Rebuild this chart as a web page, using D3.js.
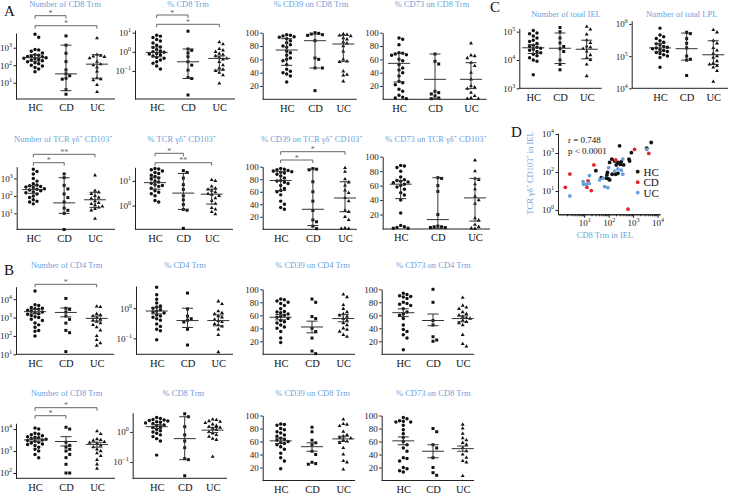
<!DOCTYPE html>
<html>
<head>
<meta charset="utf-8">
<script src="https://cdn.jsdelivr.net/npm/d3@7"></script>
<style>
  body { margin: 0; background: #fff; }
  svg text { font-family: "Liberation Serif", "DejaVu Serif", serif; }
  .title { fill: #6e9fd9; font-size: 8.5px; }
  .tick text { font-size: 9px; fill: #222; }
  .cats text { font-size: 10.5px; fill: #111; }
  .domain, .tick line { stroke: #222; }
  .letter { font-size: 15px; fill: #111; }
</style>
</head>
<body>
<svg id="chart" width="731" height="495"></svg>
<script>
const groups = ['HC', 'CD', 'UC']

// ---- A, top row: CD8 Trm in IEL (median + IQR)
const cd8NumHC = [5900, 3900, 800, 740, 630, 500, 400, 370, 330, 320, 300, 270, 250, 240, 210, 200, 180, 160, 140, 120, 100, 90, 75, 60, 42]
const cd8NumCD = [4700, 1400, 480, 160, 54, 32, 25, 18, 16, 4, 2.2]
const cd8NumUC = [3500, 400, 350, 320, 300, 250, 160, 115, 100, 76, 45, 18, 16, 14, 7.5, 3]
const cd8NumStat = [[270, 170, 400], [32, 3.5, 1400], [115, 18, 400]]

const cd8PctHC = [7.4, 6.6, 5.6, 4.4, 3.7, 2.9, 2.2, 1.8, 1.7, 1.3, 1.1, 1.0, 0.95, 0.82, 0.76, 0.7, 0.6, 0.51, 0.46, 0.37, 0.3, 0.25, 0.18, 0.126]
const cd8PctCD = [12, 1.4, 1.2, 0.87, 0.55, 0.3, 0.2, 0.11, 0.045, 0.04, 0.0055]
const cd8PctUC = [3.2, 2.5, 1.4, 1.2, 1.0, 0.8, 0.7, 0.6, 0.5, 0.45, 0.4, 0.3, 0.2, 0.14, 0.12, 0.1, 0.08, 0.06, 0.022]
const cd8PctStat = [[0.93, 0.55, 1.8], [0.3, 0.04, 1.4], [0.45, 0.11, 0.6]]

const cd39Cd8HC = [97, 96, 95, 94, 93, 91, 88, 85, 82, 80, 78, 72, 70, 66, 62, 60, 58, 52, 45, 42, 40, 38, 35, 26]
const cd39Cd8CD = [100, 99, 98, 97, 96, 88, 62, 60, 47, 47, 13]
const cd39Cd8UC = [98, 97, 96, 95, 92, 90, 86, 84, 80, 72, 60, 57, 56, 42, 37, 36, 27]
const cd39Cd8Stat = [[74, 51, 91], [88, 47, 98], [83, 57, 96]]

const cd73Cd8HC = [92, 90, 82, 70, 69, 68, 67, 66, 60, 58, 52, 47, 44, 40, 35, 27, 25, 22, 15, 12, 6, 3, 2, 1]
const cd73Cd8CD = [68, 57, 53, 12, 10, 8, 5, 2, 1]
const cd73Cd8UC = [84, 66, 65, 62, 55, 50, 40, 30, 20, 18, 16, 10, 5, 2, 1, 1]
const cd73Cd8Stat = [[54, 26, 69], [30, 1, 68], [30, 16, 55]]

// ---- C: total cells
const ielHC = [110000, 90000, 85000, 70000, 60000, 50000, 45000, 38000, 33000, 30000, 28000, 26000, 24000, 22000, 20000, 18000, 16000, 14000, 12000, 10000, 9000, 3000]
const ielCD = [140000, 100000, 60000, 40000, 30000, 25000, 20000, 10000, 7000, 4500]
const ielUC = [150000, 120000, 80000, 50000, 40000, 30000, 28000, 25000, 20000, 15000, 12000, 10000, 7000, 2700]
const ielStat = [[27000, 17000, 35000], [26000, 7500, 90000], [24000, 11000, 50000]]

const lplHC = [740000, 450000, 400000, 350000, 300000, 270000, 240000, 220000, 200000, 190000, 180000, 170000, 160000, 150000, 140000, 130000, 120000, 110000, 100000, 90000, 45000]
const lplCD = [550000, 500000, 350000, 250000, 180000, 100000, 80000, 75000, 25000]
const lplUC = [650000, 550000, 300000, 250000, 180000, 150000, 120000, 100000, 90000, 70000, 60000, 55000, 50000, 45000, 35000, 16000]
const lplStat = [[180000, 140000, 250000], [170000, 75000, 520000], [110000, 55000, 300000]]

// ---- A, second row: TCR gd+ CD103+
const gdNumHC = [3300, 2500, 1800, 1000, 700, 500, 420, 380, 350, 320, 300, 260, 240, 220, 200, 170, 150, 130, 100, 80, 60, 50, 45, 35]
const gdNumCD = [1800, 1100, 400, 250, 130, 80, 45, 20, 15, 10, 1.2]
const gdNumUC = [1500, 200, 160, 130, 100, 80, 70, 50, 40, 35, 30, 25, 22, 18, 15, 5]
const gdNumStat = [[230, 140, 380], [40, 10, 1100], [60, 22, 160]]

const gdPctHC = [32, 30, 28, 25, 22, 20, 17, 15, 13, 12, 10, 9, 8, 7, 6.5, 6, 5, 4, 3.5, 3, 2.5, 1.6, 1.4]
const gdPctCD = [26, 22, 13, 7, 4.5, 2.5, 1.7, 1.1, 0.7, 0.65, 0.12]
const gdPctUC = [11, 10, 6, 5, 4.5, 4, 3.5, 3, 2.8, 2.5, 2, 1.6, 1.2, 0.8, 0.7, 0.55, 0.45]
const gdPctStat = [[8.5, 4.6, 14], [3.2, 0.7, 20], [2.9, 1.15, 4.6]]

const cd39GdHC = [97, 96, 95, 94, 93, 92, 91, 90, 88, 85, 82, 78, 77, 75, 73, 70, 65, 62, 60, 55, 45, 40, 35, 32]
const cd39GdCD = [97, 96, 95, 76, 60, 45, 30, 15, 12, 5, 1]
const cd39GdUC = [98, 92, 80, 75, 70, 62, 58, 50, 45, 30, 28, 20, 15, 2, 1, 1]
const cd39GdStat = [[78, 62, 92], [32, 6, 96], [50, 28, 76]]

const cd73GdHC = [88, 87, 85, 80, 72, 68, 67, 66, 65, 64, 62, 60, 58, 55, 50, 47, 40, 22, 5, 3, 2, 1, 1]
const cd73GdCD = [71, 70, 60, 52, 20, 4, 3, 3, 2, 2]
const cd73GdUC = [95, 80, 70, 68, 62, 55, 45, 40, 35, 15, 12, 6, 3, 1, 0.5]
const cd73GdStat = [[62, 42, 67], [13, 1, 71], [43, 11, 70]]

// ---- B, first row: CD4 Trm in LPL (mean + SEM)
const cd4NumHC = [28000, 5000, 4500, 3500, 3200, 3000, 2800, 2500, 2200, 2000, 1800, 1600, 1500, 1300, 1100, 1000, 800, 700, 500, 400, 300, 200, 180, 100]
const cd4NumCD = [11000, 3200, 2800, 2000, 1200, 800, 500, 200, 150, 14]
const cd4NumUC = [4000, 3800, 1600, 1400, 1200, 1000, 800, 700, 600, 500, 400, 300, 200, 100, 60, 40, 30]
const cd4NumStat = [[2100, 1600, 2800], [1900, 1100, 3300], [900, 650, 1200]]

const cd4PctHC = [5, 2.8, 2, 1.5, 1.2, 1.1, 1.0, 0.9, 0.8, 0.75, 0.7, 0.6, 0.55, 0.5, 0.45, 0.4, 0.3, 0.25, 0.2, 0.18, 0.09]
const cd4PctCD = [3.2, 0.95, 0.55, 0.45, 0.4, 0.35, 0.2, 0.06]
const cd4PctUC = [1.7, 1.4, 0.8, 0.7, 0.65, 0.55, 0.5, 0.42, 0.38, 0.35, 0.3, 0.28, 0.25, 0.2, 0.13, 0.035]
const cd4PctStat = [[0.81, 0.65, 1.05], [0.39, 0.23, 1.0], [0.39, 0.26, 0.6]]

const cd39Cd4HC = [85, 84, 82, 80, 78, 75, 70, 66, 65, 64, 62, 60, 58, 57, 55, 52, 50, 48, 45, 42, 40, 35, 25, 18]
const cd39Cd4CD = [85, 80, 58, 55, 40, 35, 25, 5, 1]
const cd39Cd4UC = [92, 88, 76, 70, 65, 62, 60, 58, 55, 52, 48, 45, 40, 38, 35, 30, 27]
const cd39Cd4Stat = [[57, 53, 61], [42, 33, 51], [55, 50, 61]]

const cd73Cd4HC = [94, 92, 90, 89, 88, 86, 80, 78, 77, 75, 70, 65, 62, 60, 55, 45, 38, 35, 30, 25, 7]
const cd73Cd4CD = [100, 80, 52, 45, 27, 22, 20]
const cd73Cd4UC = [87, 75, 72, 70, 65, 62, 60, 58, 56, 55, 52, 50, 48, 45, 30, 16, 12]
const cd73Cd4Stat = [[64, 58, 70], [52, 44, 62], [55, 50, 59]]

// ---- B, second row: CD8 Trm in LPL
const cd8bNumHC = [11000, 10000, 6500, 6000, 5500, 5000, 4500, 4200, 4000, 3700, 3400, 3200, 3000, 2800, 2500, 2300, 2100, 2000, 1800, 1500, 1200, 1000, 700, 500]
const cd8bNumCD = [12000, 10000, 2500, 1800, 1500, 1200, 1000, 700, 500, 250, 100, 100]
const cd8bNumUC = [8000, 6000, 3500, 3200, 3000, 2600, 2400, 2200, 1800, 1500, 1200, 1000, 800, 600, 400, 250, 160]
const cd8bNumStat = [[3200, 2700, 3700], [2700, 1700, 4500], [2000, 1500, 2500]]

const cd8bPctHC = [3, 2.8, 2.6, 2.5, 2.4, 2.3, 2.2, 2.1, 2.0, 1.9, 1.7, 1.6, 1.5, 1.4, 1.2, 1.1, 1.0, 0.9, 0.8, 0.7, 0.6, 0.5, 0.17]
const cd8bPctCD = [4, 3.2, 1.5, 0.8, 0.5, 0.3, 0.13, 0.12, 0.035]
const cd8bPctUC = [2.6, 2.5, 2.3, 2.2, 2.0, 1.8, 1.6, 1.5, 1.4, 1.3, 1.2, 1.0, 0.9, 0.8, 0.7, 0.6, 0.55, 0.15]
const cd8bPctStat = [[1.5, 1.3, 1.75], [0.6, 0.12, 3.2], [1.15, 0.95, 1.4]]

const cd39Cd8bHC = [87, 86, 85, 80, 78, 75, 73, 70, 68, 65, 63, 62, 60, 58, 57, 55, 52, 48, 42, 35, 30, 18]
const cd39Cd8bCD = [82, 75, 62, 58, 55, 45, 40, 28, 26, 25]
const cd39Cd8bUC = [94, 87, 86, 84, 75, 70, 68, 66, 65, 62, 60, 58, 50, 40, 30, 28, 17]
const cd39Cd8bStat = [[61, 57, 65], [52, 45, 58], [64, 60, 68]]

const cd73Cd8bHC = [97, 95, 92, 91, 90, 90, 85, 78, 72, 66, 60, 55, 50, 45, 35, 34, 30, 20, 18, 15, 13]
const cd73Cd8bCD = [80, 75, 55, 50, 35, 20, 12, 8]
const cd73Cd8bUC = [86, 80, 72, 65, 62, 58, 55, 50, 45, 40, 35, 30, 28, 7]
const cd73Cd8bStat = [[61, 55, 67], [45, 35, 55], [49, 45, 53]]

// ---- D: correlation, [CD8 Trm, TCR gd+ CD103+]
const corrHC = [[280, 2400], [5500, 3600], [3600, 1800], [850, 1050], [680, 470], [720, 380], [135, 480], [175, 380], [240, 320], [330, 350], [300, 250], [410, 235], [205, 235], [110, 320], [30, 117], [50, 50], [85, 70], [100, 43], [140, 76], [195, 76], [240, 85], [80, 47], [110, 38], [90, 95]]
const corrCD = [[1150, 1550], [4400, 950], [25, 235], [195, 430], [2.6, 78], [1.7, 15.5], [14.5, 34], [13, 15.5], [19.5, 10.5], [620, 1.1]]
const corrUC = [[3600, 1550], [380, 480], [100, 170], [240, 145], [330, 125], [175, 112], [380, 76], [59, 47], [43, 38], [16.5, 65], [9, 31], [9.5, 22], [12.3, 22], [16, 25], [69, 17], [93, 15], [2.6, 5.5]]

const pct = [20, 40, 60, 80, 100]

const panels = [
  { title: 'Number of CD8 Trm', tx: 65, ty: 7.3, ax: [16, 115], cats: [35, 97], y0: 33, y1: 99, log: true, dom: [10 ** 0.07, 10 ** 3.84], ticks: [10, 100, 1000], vals: [cd8NumHC, cd8NumCD, cd8NumUC], stat: cd8NumStat, br: [['HC', 'CD', 15.7, '*'], ['HC', 'UC', 25.7, '*']] },
  { title: '% CD8 Trm', tx: 188, ty: 7.3, ax: [135, 235], cats: [156.7, 219.3], y0: 30, y1: 99, log: true, dom: [10 ** -2.47, 10 ** 1.14], ticks: [0.1, 1, 10], vals: [cd8PctHC, cd8PctCD, cd8PctUC], stat: cd8PctStat, br: [['HC', 'CD', 15, '*'], ['HC', 'UC', 24.3, '*']] },
  { title: '% CD39 on CD8 Trm', tx: 311, ty: 7.3, ax: [262.7, 356.7], cats: [286.7, 343.3], y0: 32.7, y1: 99.3, dom: [0, 100], ticks: pct, vals: [cd39Cd8HC, cd39Cd8CD, cd39Cd8UC], stat: cd39Cd8Stat },
  { title: '% CD73 on CD8 Trm', tx: 432, ty: 7.3, ax: [382.7, 486.7], cats: [399, 471], y0: 32.7, y1: 99.3, dom: [0, 100], ticks: pct, vals: [cd73Cd8HC, cd73Cd8CD, cd73Cd8UC], stat: cd73Cd8Stat },
  { title: 'Number of total IEL', tx: 566, ty: 17, ax: [519.3, 601.7], cats: [533.3, 586.7], y0: 28.3, y1: 88.3, log: true, dom: [1e3, 10 ** 5.12], ticks: [1e3, 1e4, 1e5], vals: [ielHC, ielCD, ielUC], stat: ielStat },
  { title: 'Number of total LPL', tx: 681.7, ty: 17, ax: [631.7, 728], cats: [660, 713.3], y0: 20.7, y1: 88.3, log: true, dom: [1e4, 10 ** 6.1], ticks: [1e4, 1e5, 1e6], vals: [lplHC, lplCD, lplUC], stat: lplStat },
  { title: 'Number of TCR γδ^+ CD103^+', tx: 63.3, ty: 142.3, ax: [16.7, 115], cats: [33.3, 95], y0: 166.7, y1: 229.3, log: true, dom: [10 ** 0.09, 10 ** 3.67], ticks: [10, 100, 1000], vals: [gdNumHC, gdNumCD, gdNumUC], stat: gdNumStat, br: [['HC', 'UC', 154.3, '**'], ['HC', 'CD', 162.7, '*']] },
  { title: '% TCR γδ^+ CD103^+', tx: 181.7, ty: 142.3, ax: [135, 233], cats: [155, 211.7], y0: 167.3, y1: 229.3, log: true, dom: [10 ** -0.96, 10 ** 1.55], ticks: [1, 10], vals: [gdPctHC, gdPctCD, gdPctUC], stat: gdPctStat, br: [['HC', 'CD', 153.3, '*'], ['HC', 'UC', 162.7, '**']] },
  { title: '% CD39 on TCR γδ^+ CD103^+', tx: 311.7, ty: 142.3, ax: [262.7, 357], cats: [280.7, 345], y0: 166.7, y1: 229.3, dom: [0, 100], ticks: pct, vals: [cd39GdHC, cd39GdCD, cd39GdUC], stat: cd39GdStat, br: [['HC', 'UC', 151.7, '*'], ['HC', 'CD', 160, '*']] },
  { title: '% CD73 on TCR γδ^+ CD103^+', tx: 436, ty: 142.3, ax: [382.7, 490], cats: [400.7, 475], y0: 156.7, y1: 229, dom: [0, 100], ticks: pct, vals: [cd73GdHC, cd73GdCD, cd73GdUC], stat: cd73GdStat },
  { title: 'Number of CD4 Trm', tx: 66.7, ty: 268, ax: [16, 114], cats: [35, 96.7], y0: 286.7, y1: 354.3, log: true, dom: [10, 10 ** 4.68], ticks: [10, 100, 1e3, 1e4], vals: [cd4NumHC, cd4NumCD, cd4NumUC], stat: cd4NumStat, br: [['HC', 'UC', 284.3, '*']] },
  { title: '% CD4 Trm', tx: 185, ty: 268, ax: [136, 233], cats: [156.7, 218.3], y0: 286, y1: 354.3, log: true, dom: [10 ** -1.53, 10 ** 0.74], ticks: [0.1, 1], vals: [cd4PctHC, cd4PctCD, cd4PctUC], stat: cd4PctStat },
  { title: '% CD39 on CD4 Trm', tx: 312.5, ty: 268, ax: [262.7, 355], cats: [280.7, 343.3], y0: 289.3, y1: 354.3, dom: [0, 100], ticks: pct, vals: [cd39Cd4HC, cd39Cd4CD, cd39Cd4UC], stat: cd39Cd4Stat },
  { title: '% CD73 on CD4 Trm', tx: 433.3, ty: 268, ax: [381.7, 474], cats: [403.3, 462.7], y0: 289.3, y1: 354.3, dom: [0, 100], ticks: pct, vals: [cd73Cd4HC, cd73Cd4CD, cd73Cd4UC], stat: cd73Cd4Stat },
  { title: 'Number of CD8 Trm', tx: 66.7, ty: 395.7, ax: [16, 115], cats: [35, 97], y0: 423.3, y1: 478.3, log: true, dom: [10 ** 1.76, 10 ** 4.26], ticks: [100, 1e3, 1e4], vals: [cd8bNumHC, cd8bNumCD, cd8bNumUC], stat: cd8bNumStat, br: [['HC', 'UC', 407.7, '*'], ['HC', 'CD', 415.7, '*']] },
  { title: '% CD8 Trm', tx: 183.3, ty: 395.7, ax: [132.7, 227], cats: [156.7, 212.7], y0: 412.7, y1: 478.3, log: true, dom: [10 ** -1.54, 10 ** 0.64], ticks: [0.1, 1], vals: [cd8bPctHC, cd8bPctCD, cd8bPctUC], stat: cd8bPctStat },
  { title: '% CD39 on CD8 Trm', tx: 312.5, ty: 395.7, ax: [262.7, 355], cats: [280.7, 343.3], y0: 415.5, y1: 480.5, dom: [0, 100], ticks: pct, vals: [cd39Cd8bHC, cd39Cd8bCD, cd39Cd8bUC], stat: cd39Cd8bStat },
  { title: '% CD73 on CD8 Trm', tx: 433.3, ty: 395.7, ax: [381.7, 474], cats: [403.3, 462.7], y0: 415.5, y1: 480.5, dom: [0, 100], ticks: pct, vals: [cd73Cd8bHC, cd73Cd8bCD, cd73Cd8bUC], stat: cd73Cd8bStat }
]

const svg = d3.select('#chart')
const shapes = [d3.symbolCircle, d3.symbolSquare, d3.symbolTriangle]
const sizes = [9.5, 9, 6.5]

// title text, '^+' becomes a superscript plus
function addTitle(str, x, y, rotate) {
  const t = svg.append('text').attr('class', 'title')
    .attr('text-anchor', 'middle')
  if (rotate) t.attr('transform', `translate(${x},${y}) rotate(-90)`)
  else t.attr('x', x).attr('y', y)
  const parts = str.split('^+')
  parts.forEach((part, i) => {
    t.append('tspan').attr('dy', i ? 3 : 0).text(part)
    if (i < parts.length - 1) {
      t.append('tspan').attr('dy', -3).style('font-size', '5.5px').text('+')
    }
  })
}

function logLabels(sel) {
  sel.selectAll('.tick text').each(function(d) {
    const e = Math.round(Math.log10(d))
    const t = d3.select(this).text('10')
    t.append('tspan').attr('dy', -4).style('font-size', '6px')
      .text(e < 0 ? '\u2212' + (-e) : e)
  })
}

// spread points sideways so they don't overlap
function swarm(vals, y, cx) {
  const dist = 3.7
  const pts = vals.map(v => ({ v: v, y: y(v) })).sort((a, b) => a.y - b.y)
  const placed = []
  pts.forEach(p => {
    for (let k = 0; k < 30; k++) {
      const off = k === 0 ? 0 : (k % 2 ? 1 : -1) * Math.ceil(k / 2) * dist
      const xx = cx + off
      if (placed.every(q => (q.x - xx) ** 2 + (q.y - p.y) ** 2 >= dist * dist)) {
        p.x = xx
        break
      }
    }
    placed.push(p)
  })
  return placed
}

function bracket(x0, x1, yy, label) {
  const g = svg.append('g').attr('stroke', '#666').attr('fill', 'none')
  g.append('line').attr('x1', x0).attr('x2', x1).attr('y1', yy).attr('y2', yy)
  g.append('line').attr('x1', x0).attr('x2', x0).attr('y1', yy).attr('y2', yy + 3)
  g.append('line').attr('x1', x1).attr('x2', x1).attr('y1', yy).attr('y2', yy + 3)
  svg.append('text').attr('x', (x0 + x1) / 2).attr('y', yy + 0.5)
    .attr('text-anchor', 'middle').attr('fill', '#666')
    .style('font-size', '8px').text(label)
}

function drawPanel(p) {
  const x = d3.scalePoint().domain(groups).range(p.cats)
  const y = (p.log ? d3.scaleLog() : d3.scaleLinear()).domain(p.dom).range([p.y1, p.y0])

  const ya = svg.append('g')
    .attr('transform', `translate(${p.ax[0]},0)`)
    .call(d3.axisLeft(y).tickValues(p.ticks).tickSize(2.5).tickSizeOuter(0).tickPadding(1.5))
  if (p.log) logLabels(ya)

  svg.append('line')
    .attr('x1', p.ax[0]).attr('x2', p.ax[1])
    .attr('y1', p.y1).attr('y2', p.y1)
    .attr('stroke', '#222')

  svg.append('g').attr('class', 'cats')
    .attr('transform', `translate(0,${p.y1})`)
    .call(d3.axisBottom(x).tickSize(0).tickPadding(5))
    .call(g => g.select('.domain').remove())

  addTitle(p.title, p.tx, p.ty)

  groups.forEach((gr, i) => {
    const cx = x(gr)
    const pts = swarm(p.vals[i], y, cx)
    svg.append('g').selectAll('path')
      .data(pts)
      .join('path')
      .attr('transform', d => `translate(${d.x},${d.y})`)
      .attr('d', d3.symbol(shapes[i], sizes[i]))
      .attr('fill', '#111')

    const [c, lo, hi] = p.stat[i]
    const s = svg.append('g').attr('stroke', '#333').attr('stroke-width', 1)
    s.append('line').attr('x1', cx).attr('x2', cx).attr('y1', y(lo)).attr('y2', y(hi))
    s.append('line').attr('x1', cx - 11).attr('x2', cx + 11).attr('y1', y(c)).attr('y2', y(c))
    s.append('line').attr('x1', cx - 5.5).attr('x2', cx + 5.5).attr('y1', y(lo)).attr('y2', y(lo))
    s.append('line').attr('x1', cx - 5.5).attr('x2', cx + 5.5).attr('y1', y(hi)).attr('y2', y(hi))
  })

  ;(p.br || []).forEach(b => bracket(x(b[0]), x(b[1]), b[2], b[3]))
}

panels.forEach(drawPanel)

// ---- D: scatter
const dx = d3.scaleLog().domain([10 ** -0.07, 10 ** 4.1]).range([558, 660])
const dy = d3.scaleLog().domain([10 ** -0.23, 10 ** 4.04]).range([214.3, 133.3])

const dya = svg.append('g')
  .attr('transform', 'translate(558,0)')
  .call(d3.axisLeft(dy).tickValues([1, 10, 100, 1e3, 1e4]).tickSize(2.5).tickSizeOuter(0).tickPadding(1.5))
logLabels(dya)

const minor = []
for (let k = 0; k < 4; k++) {
  for (let m = 2; m < 10; m++) minor.push(m * 10 ** k)
}
svg.append('g')
  .attr('transform', 'translate(0,214.3)')
  .call(d3.axisBottom(dx).tickValues(minor).tickSize(2).tickSizeOuter(0).tickFormat(''))
const dxa = svg.append('g')
  .attr('transform', 'translate(0,214.3)')
  .call(d3.axisBottom(dx).tickValues([10, 100, 1e3, 1e4]).tickSize(3.5).tickSizeOuter(0).tickPadding(1.5))
logLabels(dxa)

const dotColors = ['#111', '#e3262b', '#6a9fdb']
;[corrHC, corrCD, corrUC].forEach((set, i) => {
  svg.append('g').selectAll('circle')
    .data(set)
    .join('circle')
    .attr('cx', d => dx(d[0]))
    .attr('cy', d => dy(d[1]))
    .attr('r', 1.9)
    .attr('fill', dotColors[i])
})

groups.forEach((gr, i) => {
  const ly = 171.7 + i * 10.5
  svg.append('circle').attr('cx', 637.7).attr('cy', ly).attr('r', 1.9).attr('fill', dotColors[i])
  svg.append('text').attr('x', 643.5).attr('y', ly + 3.8)
    .style('font-size', '11px').attr('fill', '#111').text(gr)
})

svg.append('text').attr('x', 568).attr('y', 142.5).style('font-size', '9px').attr('fill', '#111').text('r = 0.748')
svg.append('text').attr('x', 568).attr('y', 153.5).style('font-size', '9px').attr('fill', '#111').text('p < 0.0001')

addTitle('CD8 Trm in IEL', 605, 238)
addTitle('TCR γδ^+ CD103^+ in IEL', 533, 173, true)

// panel letters
const letters = [['A', 4, 15.5], ['B', 4, 275], ['C', 490, 12], ['D', 511, 137]]
letters.forEach(l => {
  svg.append('text').attr('class', 'letter').attr('x', l[1]).attr('y', l[2]).text(l[0])
})
</script>
</body>
</html>
